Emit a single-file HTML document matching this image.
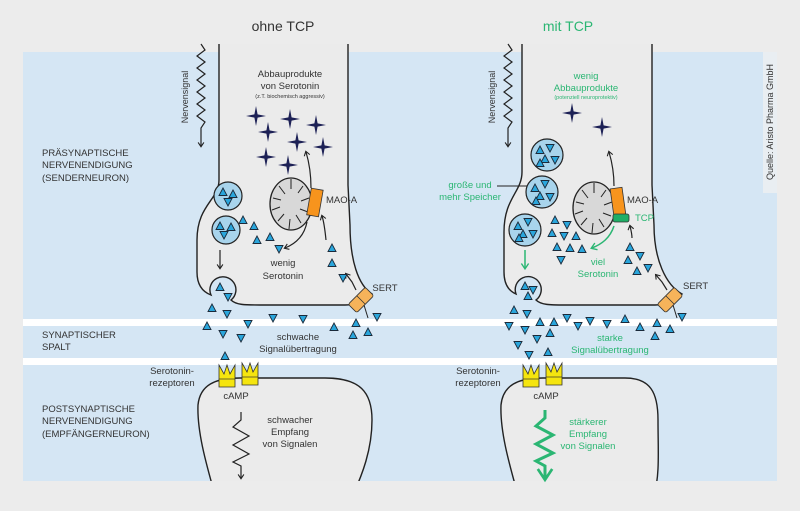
<!DOCTYPE html>
<html><head><meta charset="utf-8"><style>
body{margin:0;background:#ececec;}
svg{display:block;font-family:"Liberation Sans",sans-serif;}
</style></head><body>
<svg width="800" height="511" viewBox="0 0 800 511" xmlns="http://www.w3.org/2000/svg">
<defs>
<g id="tri"><polygon points="-4,-3.5 4,-3.5 0,4" fill="#2aa6dc" stroke="#1a2a3a" stroke-width="0.9"/></g>
<g id="tru"><polygon points="-4,3.5 4,3.5 0,-4" fill="#2aa6dc" stroke="#1a2a3a" stroke-width="0.9"/></g>
<g id="star"><path d="M0,-10 L1.6,-1.6 L10,0 L1.6,1.6 L0,10 L-1.6,1.6 L-10,0 L-1.6,-1.6Z" fill="#1d2156"/></g>
<g id="rec"><path d="M-8,-12 L-3,-3 L0,-12 L3,-3 L8,-12 L8,10 L-8,10Z" fill="#f5e50f" stroke="#333" stroke-width="0.8"/><line x1="-8" y1="2" x2="8" y2="2" stroke="#333" stroke-width="0.7"/></g>
<g id="sert"><rect x="-12" y="-6" width="24" height="12" rx="2" fill="#f6b35a" stroke="#333" stroke-width="0.8"/><line x1="0" y1="-6" x2="0" y2="6" stroke="#333" stroke-width="0.8"/></g>
<g id="mito"><ellipse cx="0" cy="0" rx="21" ry="26" fill="#d8d8d8" stroke="#222" stroke-width="1.3"/><path d="M-18,-6 L-10,-4 M-12,-18 L-6,-10 M0,-25 L0,-15 M12,-18 L7,-11 M18,-6 L10,-3 M17,8 L9,5 M10,19 L5,11 M-2,25 L-1,15 M-13,17 L-7,10 M-19,6 L-11,3" stroke="#222" stroke-width="1" fill="none"/></g>
<marker id="ah" viewBox="0 0 10 10" refX="6" refY="5" markerWidth="6" markerHeight="6" orient="auto-start-reverse"><path d="M1,1 L7,5 L1,9" fill="none" stroke="#222" stroke-width="1.5"/></marker>
<marker id="ahg" viewBox="0 0 10 10" refX="6" refY="5" markerWidth="6" markerHeight="6" orient="auto-start-reverse"><path d="M1,1 L7,5 L1,9" fill="none" stroke="#2bb673" stroke-width="1.5"/></marker>
</defs>
<rect x="23" y="52" width="754" height="429" fill="#d5e6f4"/>
<rect x="23" y="319" width="754" height="7" fill="#fff"/>
<rect x="23" y="358" width="754" height="7" fill="#fff"/>
<rect x="763" y="52" width="14" height="141" fill="#e9eef2"/>
<text transform="translate(773,122) rotate(-90)" font-size="9" fill="#333" text-anchor="middle">Quelle: Aristo Pharma GmbH</text>

<text x="283" y="31" font-size="14" fill="#333" text-anchor="middle">ohne TCP</text>
<text x="568" y="31" font-size="14" fill="#2bb673" text-anchor="middle">mit TCP</text>

<g font-size="9.5" fill="#333">
<text x="42" y="156">PRÄSYNAPTISCHE</text><text x="42" y="168">NERVENENDIGUNG</text><text x="42" y="181">(SENDERNEURON)</text>
<text x="42" y="338">SYNAPTISCHER</text><text x="42" y="350">SPALT</text>
<text x="42" y="412">POSTSYNAPTISCHE</text><text x="42" y="424">NERVENENDIGUNG</text><text x="42" y="437">(EMPFÄNGERNEURON)</text>
</g>

<!-- LEFT presynaptic -->
<path d="M219,44 L219,180 C219,200 197,205 197,240 L197,272 C197,285 203,292 211,295 A13,13 0 1 1 231,300 C236,305 245,305 260,305 L345,305 C358,305 368,300 372,294 C358,285 350,260 350,225 L348,185 L348,44 Z" fill="#ebebeb"/>
<path d="M219,44 L219,180 C219,200 197,205 197,240 L197,272 C197,285 203,292 211,295 A13,13 0 1 1 231,300 C236,305 245,305 260,305 L345,305 C358,305 368,300 372,294 C358,285 350,260 350,225 L348,185 L348,44" fill="none" stroke="#222" stroke-width="1.4"/>
<path d="M215,495 C205,460 197,430 198,405 C200,385 215,378 240,378 L325,378 C360,378 372,392 372,420 C372,450 362,475 353,495 Z" fill="#ebebeb" stroke="#222" stroke-width="1.4"/>
<rect x="23" y="481" width="754" height="30" fill="#ececec"/>

<path d="M201,44 L205,50 L197,56 L205,62 L197,68 L205,74 L197,80 L205,86 L197,92 L205,98 L197,104 L205,110 L197,116 L205,122 L201,128 L201,146" fill="none" stroke="#222" stroke-width="1.2" marker-end="url(#ah)"/>
<text transform="translate(188,97) rotate(-90)" font-size="9" fill="#333" text-anchor="middle">Nervensignal</text>
<g font-size="9.5" fill="#333" text-anchor="middle">
<text x="290" y="77">Abbauprodukte</text><text x="290" y="89">von Serotonin</text>
<text x="290" y="98" font-size="5.5">(z.T. biochemisch aggressiv)</text>
<text x="283" y="266">wenig</text><text x="283" y="279">Serotonin</text>
<text x="298" y="340">schwache</text><text x="298" y="352">Signalübertragung</text>
<text x="290" y="423">schwacher</text><text x="290" y="435">Empfang</text><text x="290" y="447">von Signalen</text>
<text x="236" y="399">cAMP</text>
<text x="172" y="374">Serotonin-</text><text x="172" y="386">rezeptoren</text>
<text x="326" y="203" text-anchor="start">MAO-A</text>
<text x="385" y="291">SERT</text>
</g>
<g><use href="#star" x="256" y="116"/><use href="#star" x="290" y="119"/><use href="#star" x="316" y="125"/><use href="#star" x="268" y="132"/><use href="#star" x="297" y="142"/><use href="#star" x="323" y="147"/><use href="#star" x="266" y="157"/><use href="#star" x="288" y="165"/></g>
<use href="#mito" x="291" y="204"/>
<rect x="309" y="189" width="12" height="27" fill="#f7941d" stroke="#333" stroke-width="0.8" transform="rotate(10 315 202)"/>
<path d="M311,188 C311,172 309,162 306,152" fill="none" stroke="#222" stroke-width="1.2" marker-end="url(#ah)"/>
<path d="M307,222 C304,237 295,244 285,248" fill="none" stroke="#222" stroke-width="1.2" marker-end="url(#ah)"/>
<path d="M326,240 C325,230 324,222 322,216" fill="none" stroke="#222" stroke-width="1.2" marker-end="url(#ah)"/>
<path d="M356,290 L352,282 L346,274" fill="none" stroke="#222" stroke-width="1.2" marker-end="url(#ah)"/>
<path d="M220,250 L220,268" fill="none" stroke="#222" stroke-width="1.2" marker-end="url(#ah)"/>
<circle cx="228" cy="196" r="14" fill="#a8d4ec" stroke="#222" stroke-width="1.2"/>
<circle cx="226" cy="230" r="14" fill="#a8d4ec" stroke="#222" stroke-width="1.2"/>
<g><use href="#tru" x="223" y="192"/><use href="#tru" x="233" y="194"/><use href="#tri" x="228" y="202"/><use href="#tru" x="220" y="226"/><use href="#tru" x="231" y="227"/><use href="#tri" x="224" y="235"/>
<use href="#tru" x="243" y="220"/><use href="#tru" x="254" y="226"/><use href="#tru" x="257" y="240"/><use href="#tru" x="270" y="237"/><use href="#tri" x="279" y="249"/><use href="#tru" x="332" y="248"/><use href="#tru" x="332" y="263"/><use href="#tri" x="343" y="278"/><use href="#tru" x="220" y="287"/><use href="#tri" x="228" y="297"/>
<use href="#tru" x="212" y="308"/><use href="#tri" x="227" y="314"/><use href="#tru" x="207" y="326"/><use href="#tri" x="248" y="324"/><use href="#tri" x="273" y="318"/><use href="#tri" x="303" y="319"/><use href="#tri" x="223" y="334"/><use href="#tri" x="241" y="338"/><use href="#tru" x="334" y="327"/><use href="#tru" x="356" y="323"/><use href="#tru" x="368" y="332"/><use href="#tru" x="353" y="335"/><use href="#tri" x="377" y="317"/><use href="#tru" x="225" y="356"/></g>
<use href="#sert" transform="translate(361,300) rotate(-45)"/>
<line x1="364" y1="305" x2="368" y2="318" stroke="#222" stroke-width="1"/>
<use href="#rec" x="227" y="377"/><use href="#rec" x="250" y="375"/>
<path d="M241,412 L241,420 L233,427 L249,436 L233,445 L249,454 L233,462 L241,466 L241,478" fill="none" stroke="#222" stroke-width="1.2" marker-end="url(#ah)"/>

<!-- RIGHT presynaptic -->
<path d="M522,44 L522,172 C522,192 504,198 504,232 L504,272 C504,285 509,291 516,294 A13,13 0 1 1 536,300 C541,305 550,305 565,305 L655,305 C668,305 676,300 682,294 C666,285 654,260 654,225 L652,185 L652,44 Z" fill="#ebebeb"/>
<path d="M522,44 L522,172 C522,192 504,198 504,232 L504,272 C504,285 509,291 516,294 A13,13 0 1 1 536,300 C541,305 550,305 565,305 L655,305 C668,305 676,300 682,294 C666,285 654,260 654,225 L652,185 L652,44" fill="none" stroke="#222" stroke-width="1.4"/>
<path d="M518,495 C508,460 500,430 501,405 C503,385 518,378 543,378 L625,378 C650,378 658,392 658,420 C658,450 660,475 654,495 Z" fill="#ebebeb" stroke="#222" stroke-width="1.4"/>
<rect x="440" y="481" width="337" height="30" fill="#ececec"/>

<path d="M508,44 L512,50 L504,56 L512,62 L504,68 L512,74 L504,80 L512,86 L504,92 L512,98 L504,104 L512,110 L504,116 L512,122 L508,128 L508,146" fill="none" stroke="#222" stroke-width="1.2" marker-end="url(#ah)"/>
<text transform="translate(495,97) rotate(-90)" font-size="9" fill="#333" text-anchor="middle">Nervensignal</text>
<g font-size="9.5" fill="#2bb673" text-anchor="middle">
<text x="586" y="79">wenig</text><text x="586" y="91">Abbauprodukte</text>
<text x="586" y="99" font-size="5.5">(potenziell neuroprotektiv)</text>
<text x="470" y="188">große und</text><text x="470" y="200">mehr Speicher</text>
<text x="598" y="265">viel</text><text x="598" y="277">Serotonin</text>
<text x="610" y="341">starke</text><text x="610" y="353">Signalübertragung</text>
<text x="588" y="425">stärkerer</text><text x="588" y="437">Empfang</text><text x="588" y="449">von Signalen</text>
<text x="635" y="221" text-anchor="start">TCP</text>
</g>
<g font-size="9.5" fill="#333" text-anchor="middle">
<text x="546" y="399">cAMP</text>
<text x="478" y="374">Serotonin-</text><text x="478" y="386">rezeptoren</text>
<text x="627" y="203" text-anchor="start">MAO-A</text>
<text x="683" y="289" text-anchor="start">SERT</text>
</g>
<line x1="497" y1="186" x2="527" y2="186" stroke="#222" stroke-width="1.1"/>
<use href="#star" x="572" y="113"/><use href="#star" x="602" y="127"/>
<use href="#mito" x="594" y="208"/>
<rect x="612" y="188" width="12" height="27" fill="#f7941d" stroke="#333" stroke-width="0.8" transform="rotate(-8 618 202)"/>
<rect x="613" y="214" width="16" height="8" rx="2" fill="#1fae66" stroke="#333" stroke-width="0.8"/>
<path d="M614,186 C614,172 612,162 609,152" fill="none" stroke="#222" stroke-width="1.2" marker-end="url(#ah)"/>
<path d="M614,226 C610,238 602,244 592,248" fill="none" stroke="#2bb673" stroke-width="1.5" marker-end="url(#ahg)"/>
<path d="M632,238 C632,234 631,230 630,226" fill="none" stroke="#222" stroke-width="1.2" marker-end="url(#ah)"/>
<path d="M667,290 L662,282 L656,275" fill="none" stroke="#222" stroke-width="1.2" marker-end="url(#ah)"/>
<path d="M525,250 L525,268" fill="none" stroke="#2bb673" stroke-width="1.5" marker-end="url(#ahg)"/>
<circle cx="547" cy="155" r="16" fill="#a8d4ec" stroke="#222" stroke-width="1.2"/>
<circle cx="542" cy="192" r="16" fill="#a8d4ec" stroke="#222" stroke-width="1.2"/>
<circle cx="525" cy="230" r="16" fill="#a8d4ec" stroke="#222" stroke-width="1.2"/>
<g><use href="#tru" x="540" y="150"/><use href="#tri" x="550" y="148"/><use href="#tru" x="545" y="159"/><use href="#tri" x="555" y="160"/><use href="#tru" x="540" y="163"/>
<use href="#tru" x="535" y="188"/><use href="#tri" x="545" y="184"/><use href="#tru" x="540" y="196"/><use href="#tri" x="550" y="197"/><use href="#tru" x="536" y="201"/>
<use href="#tru" x="518" y="226"/><use href="#tri" x="528" y="222"/><use href="#tru" x="523" y="234"/><use href="#tri" x="533" y="234"/><use href="#tru" x="519" y="238"/>
<use href="#tru" x="555" y="220"/><use href="#tri" x="567" y="225"/><use href="#tru" x="552" y="233"/><use href="#tri" x="564" y="236"/><use href="#tru" x="576" y="236"/><use href="#tru" x="557" y="247"/><use href="#tru" x="570" y="248"/><use href="#tru" x="582" y="249"/><use href="#tri" x="561" y="260"/><use href="#tru" x="630" y="247"/><use href="#tru" x="628" y="260"/><use href="#tri" x="640" y="256"/><use href="#tru" x="637" y="271"/><use href="#tri" x="648" y="268"/>
<use href="#tru" x="525" y="286"/><use href="#tri" x="533" y="290"/><use href="#tru" x="528" y="296"/>
<use href="#tru" x="514" y="310"/><use href="#tri" x="527" y="314"/><use href="#tri" x="509" y="326"/><use href="#tru" x="540" y="322"/><use href="#tru" x="554" y="322"/><use href="#tri" x="567" y="318"/><use href="#tri" x="578" y="326"/><use href="#tri" x="590" y="321"/><use href="#tri" x="607" y="324"/><use href="#tru" x="625" y="319"/><use href="#tru" x="640" y="327"/><use href="#tru" x="657" y="323"/><use href="#tru" x="670" y="329"/><use href="#tri" x="682" y="317"/><use href="#tru" x="655" y="336"/><use href="#tri" x="525" y="330"/><use href="#tri" x="537" y="339"/><use href="#tru" x="550" y="333"/><use href="#tri" x="518" y="345"/><use href="#tri" x="529" y="355"/><use href="#tru" x="548" y="352"/></g>
<use href="#sert" transform="translate(670,300) rotate(-45)"/>
<line x1="673" y1="305" x2="677" y2="318" stroke="#222" stroke-width="1"/>
<use href="#rec" x="531" y="377"/><use href="#rec" x="554" y="375"/>
<path d="M545,410 L545,418 L536,426 L553,435 L536,444 L553,453 L536,461 L545,466 L545,478" fill="none" stroke="#2bb673" stroke-width="3" marker-end="url(#ahg)"/>
</svg>
</body></html>
